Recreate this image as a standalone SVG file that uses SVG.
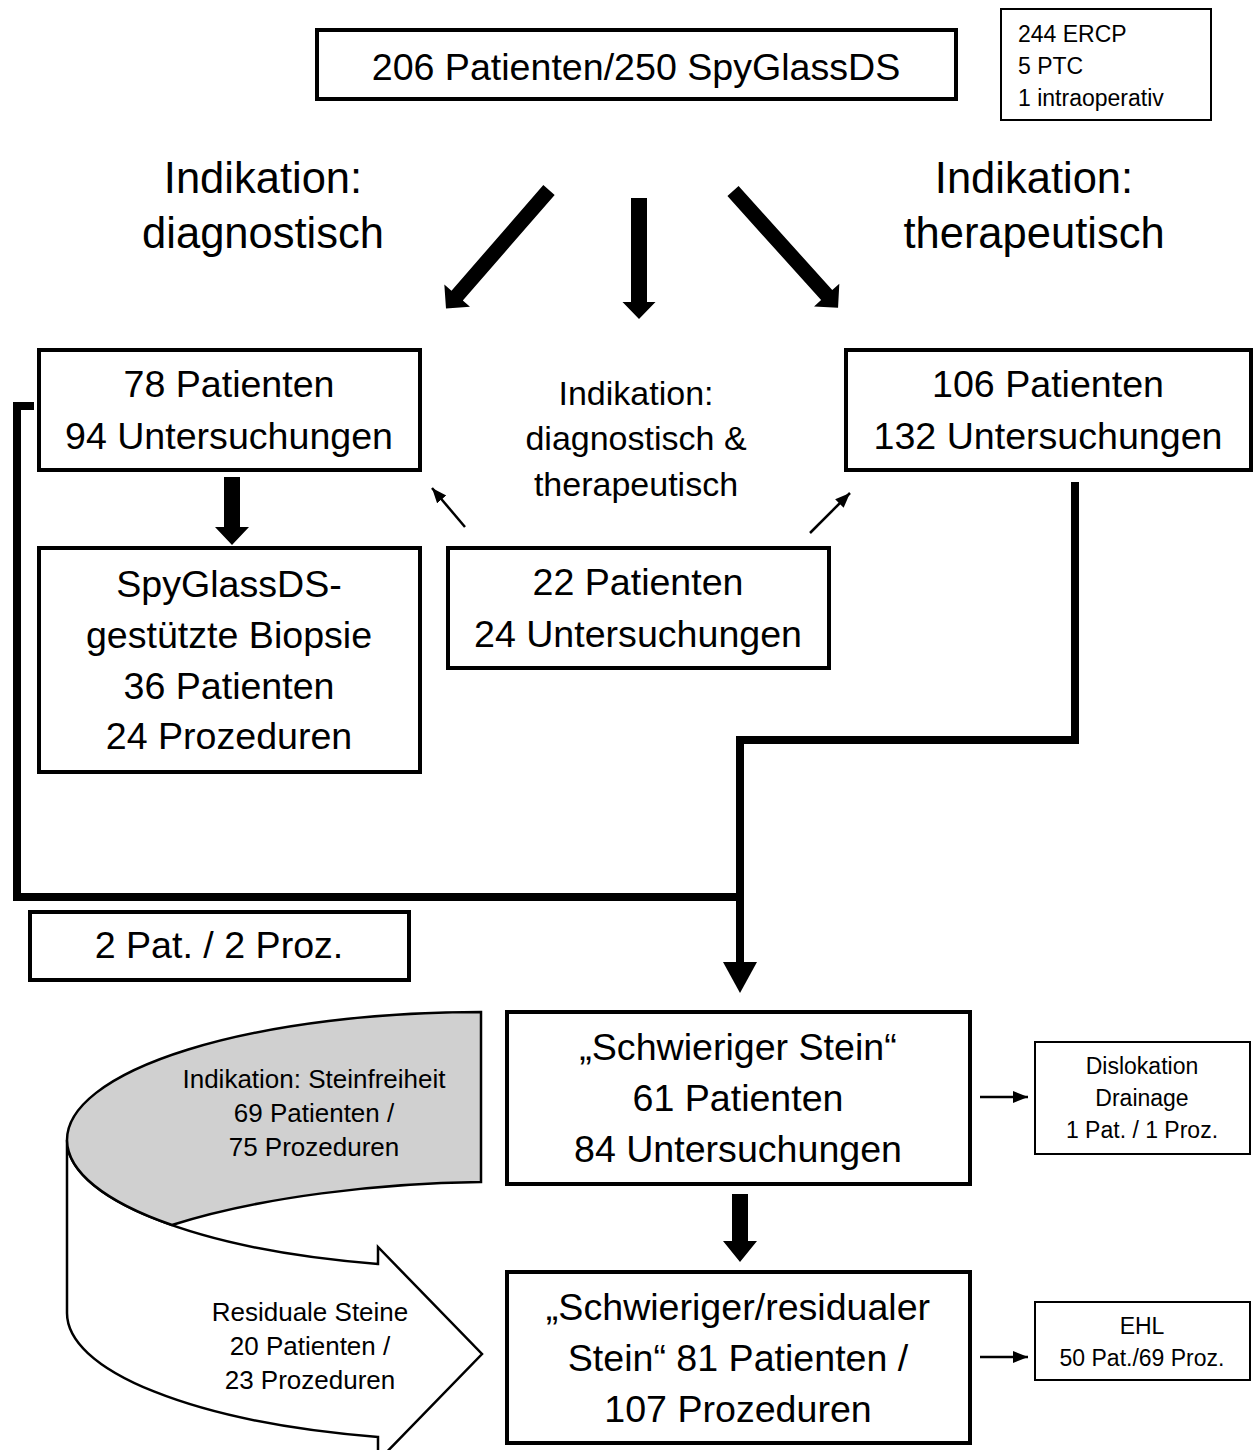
<svg xmlns="http://www.w3.org/2000/svg" width="1255" height="1450" viewBox="0 0 1255 1450">
<style>
text{font-family:"Liberation Sans",Arial,sans-serif;fill:#000;text-anchor:middle}
.box{fill:#fff;stroke:#000;stroke-width:4}
.sbox{fill:#fff;stroke:#000;stroke-width:2}
.big{font-size:37.6px}
.lab{font-size:43.5px}
.mid{font-size:34px}
.sm{font-size:23px}
.cv{font-size:26px}
.thick{fill:none;stroke:#000;stroke-width:8;stroke-linejoin:miter}
.thin{fill:none;stroke:#000;stroke-width:2.5}
</style>
<defs>
<marker id="ah" markerUnits="userSpaceOnUse" markerWidth="16" markerHeight="14" refX="15" refY="6" orient="auto">
<path d="M0,0 L15,6 L0,12 Z" fill="#000"/>
</marker>
</defs>
<rect x="0" y="0" width="1255" height="1450" fill="#fff"/>

<g id="connectors">
<polygon transform="translate(549,190) rotate(41)" points="-7.5,0 7.5,0 7.5,140 17,140 0,157 -17,140 -7.5,140"/>
<polygon transform="translate(639,198)" points="-8,0 8,0 8,104 16.5,104 0,121 -16.5,104 -8,104"/>
<polygon transform="translate(733,191) rotate(-42)" points="-7.5,0 7.5,0 7.5,140 17,140 0,157 -17,140 -7.5,140"/>
<polygon transform="translate(232,477)" points="-8,0 8,0 8,50 17,50 0,68 -17,50 -8,50"/>
<line class="thin" x1="465" y1="527" x2="432" y2="488" marker-end="url(#ah)"/>
<line class="thin" x1="810" y1="533" x2="850" y2="493" marker-end="url(#ah)"/>
<polyline class="thick" points="34,406 17,406 17,897 740,897"/>
<polyline class="thick" points="1075,482 1075,740 740,740 740,963"/>
<polygon points="723,962 757,962 740,993"/>
<polygon transform="translate(740,1194)" points="-8,0 8,0 8,47 17,47 0,68 -17,47 -8,47"/>
<line class="thin" x1="980" y1="1097" x2="1028" y2="1097" marker-end="url(#ah)"/>
<line class="thin" x1="980" y1="1357" x2="1028" y2="1357" marker-end="url(#ah)"/>
</g>

<g id="n_top">
<rect class="box" x="317" y="30" width="639" height="69"/>
<text class="big" x="636" y="80">206 Patienten/250 SpyGlassDS</text>
</g>
<g id="n_access">
<rect class="sbox" x="1001" y="9" width="210" height="111"/>
<text class="sm" x="1018" y="42" style="text-anchor:start">244 ERCP</text>
<text class="sm" x="1018" y="74" style="text-anchor:start">5 PTC</text>
<text class="sm" x="1018" y="106" style="text-anchor:start">1 intraoperativ</text>
</g>
<g id="l_diag">
<text class="lab" x="263" y="193">Indikation:</text>
<text class="lab" x="263" y="248">diagnostisch</text>
</g>
<g id="l_ther">
<text class="lab" x="1034" y="193">Indikation:</text>
<text class="lab" x="1034" y="248">therapeutisch</text>
</g>
<g id="n_diag">
<rect class="box" x="39" y="350" width="381" height="120"/>
<text class="big" x="229" y="397">78 Patienten</text>
<text class="big" x="229" y="449">94 Untersuchungen</text>
</g>
<g id="l_both">
<text class="mid" x="636" y="405">Indikation:</text>
<text class="mid" x="636" y="450">diagnostisch &amp;</text>
<text class="mid" x="636" y="496">therapeutisch</text>
</g>
<g id="n_ther">
<rect class="box" x="846" y="350" width="405" height="120"/>
<text class="big" x="1048" y="397">106 Patienten</text>
<text class="big" x="1048" y="449">132 Untersuchungen</text>
</g>
<g id="n_biopsy">
<rect class="box" x="39" y="548" width="381" height="224"/>
<text class="big" x="229" y="597">SpyGlassDS-</text>
<text class="big" x="229" y="648">gestützte Biopsie</text>
<text class="big" x="229" y="699">36 Patienten</text>
<text class="big" x="229" y="749">24 Prozeduren</text>
</g>
<g id="n_both">
<rect class="box" x="448" y="548" width="381" height="120"/>
<text class="big" x="638" y="595">22 Patienten</text>
<text class="big" x="638" y="647">24 Untersuchungen</text>
</g>
<g id="n_2pat">
<rect class="box" x="30" y="912" width="379" height="68"/>
<text class="big" x="219" y="958">2 Pat. / 2 Proz.</text>
</g>
<g id="n_stone">
<rect class="box" x="507" y="1012" width="463" height="172"/>
<text class="big" x="738" y="1060">„Schwieriger Stein“</text>
<text class="big" x="738" y="1111">61 Patienten</text>
<text class="big" x="738" y="1162">84 Untersuchungen</text>
</g>
<g id="n_resid">
<rect class="box" x="507" y="1272" width="463" height="171"/>
<text class="big" x="738" y="1320">„Schwieriger/residualer</text>
<text class="big" x="738" y="1371">Stein“ 81 Patienten /</text>
<text class="big" x="738" y="1422">107 Prozeduren</text>
</g>
<g id="n_disl">
<rect class="sbox" x="1035" y="1042" width="215" height="112"/>
<text class="sm" x="1142" y="1074">Dislokation</text>
<text class="sm" x="1142" y="1106">Drainage</text>
<text class="sm" x="1142" y="1138">1 Pat. / 1 Proz.</text>
</g>
<g id="n_ehl">
<rect class="sbox" x="1035" y="1302" width="215" height="78"/>
<text class="sm" x="1142" y="1334">EHL</text>
<text class="sm" x="1142" y="1366">50 Pat./69 Proz.</text>
</g>
<g id="n_curve">
<path d="M67,1140 A414,128 0 0 0 378,1264 L378,1247 L482,1354 L378,1461 L378,1437 A414,128 0 0 1 67,1313 Z" fill="#fff" stroke="#000" stroke-width="2.5" stroke-linejoin="miter"/>
<path d="M481,1012 A414,128 0 0 0 67,1140 A414,128 0 0 0 172,1225 C260,1197 380,1183 481,1182 Z" fill="#d0d0d0" stroke="#000" stroke-width="2.5"/>
<text class="cv" x="314" y="1088">Indikation: Steinfreiheit</text>
<text class="cv" x="314" y="1122">69 Patienten /</text>
<text class="cv" x="314" y="1156">75 Prozeduren</text>
<text class="cv" x="310" y="1321">Residuale Steine</text>
<text class="cv" x="310" y="1355">20 Patienten /</text>
<text class="cv" x="310" y="1389">23 Prozeduren</text>
</g>
</svg>
